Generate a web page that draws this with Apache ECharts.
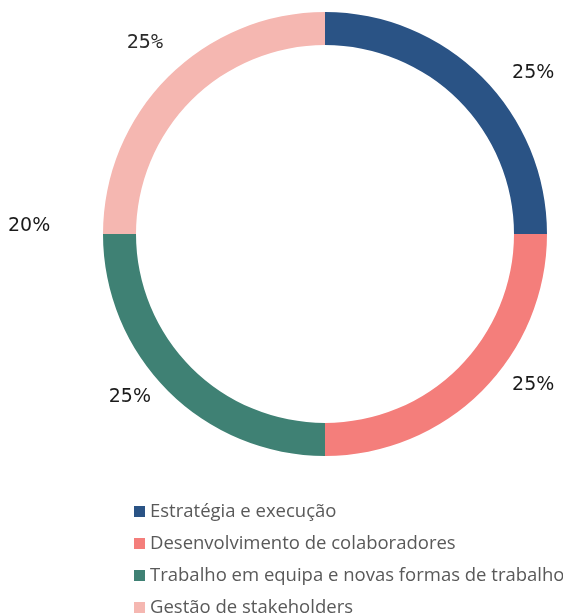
<!DOCTYPE html>
<html>
<head>
<meta charset="utf-8">
<script src="https://cdn.jsdelivr.net/npm/echarts@6/dist/echarts.min.js"></script>
<style>
  html, body { margin: 0; padding: 0; background: #fff; }
  #myChart { width: 563px; height: 616px; }
</style>
</head>
<body>
<div id="myChart"></div>
<script>
// dados do gráfico
var categorias = ['Estratégia e execução', 'Desenvolvimento de colaboradores', 'Trabalho em equipa e novas formas de trabalho', 'Gestão de stakeholders'];
var valores = [25, 25, 25, 25];
var rotulos = ['25%', '25%', '25%', '25%'];
var rotuloExtra = '20%';
var cores = ['#2a5385', '#f47e7b', '#3f8174', '#f5b7b1'];

// pequenos ajustes de posição dos rótulos (px)
var ajustes = [[-2, 3], [-2, -13], [15, -1], [27, -27]];

var myChart = echarts.init(document.getElementById('myChart'));
var option = {
  backgroundColor: '#fff',
  animation: false,
  legend: {
    orient: 'vertical',
    left: 129,
    top: 497,
    height: 200,
    icon: 'rect',
    itemWidth: 11,
    itemHeight: 11,
    itemGap: 13,
    itemTextGap: 4,
    textStyle: { color: '#595959', fontSize: 18.5, fontFamily: 'Open Sans' },
    data: categorias
  },
  graphic: [{
    type: 'text',
    left: 8,
    top: 217,
    style: { text: rotuloExtra, fontSize: 19, fontFamily: 'DejaVu Sans', fill: '#1a1a1a' }
  }],
  series: [{
    type: 'pie',
    center: [325, 234],
    radius: [189, 222],
    startAngle: 90,
    clockwise: true,
    label: {
      show: true,
      position: 'outside',
      fontSize: 19,
      fontFamily: 'DejaVu Sans',
      color: '#1a1a1a',
      overflow: 'none',
      formatter: function (p) { return rotulos[p.dataIndex]; }
    },
    labelLine: { show: false, length: 10, length2: 20 },
    labelLayout: function (p) {
      var a = ajustes[p.dataIndex];
      return { dx: a[0], dy: a[1] };
    },
    emphasis: { disabled: true },
    data: categorias.map(function (c, i) {
      var item = { name: c, value: valores[i], itemStyle: { color: cores[i] } };
      if (i === 3) {
        item.label = { fontFamily: 'DejaVu Sans Mono', fontSize: 20, color: '#2a2a2a', letterSpacing: -1 };
      }
      return item;
    })
  }]
};
myChart.setOption(option);
</script>
</body>
</html>
